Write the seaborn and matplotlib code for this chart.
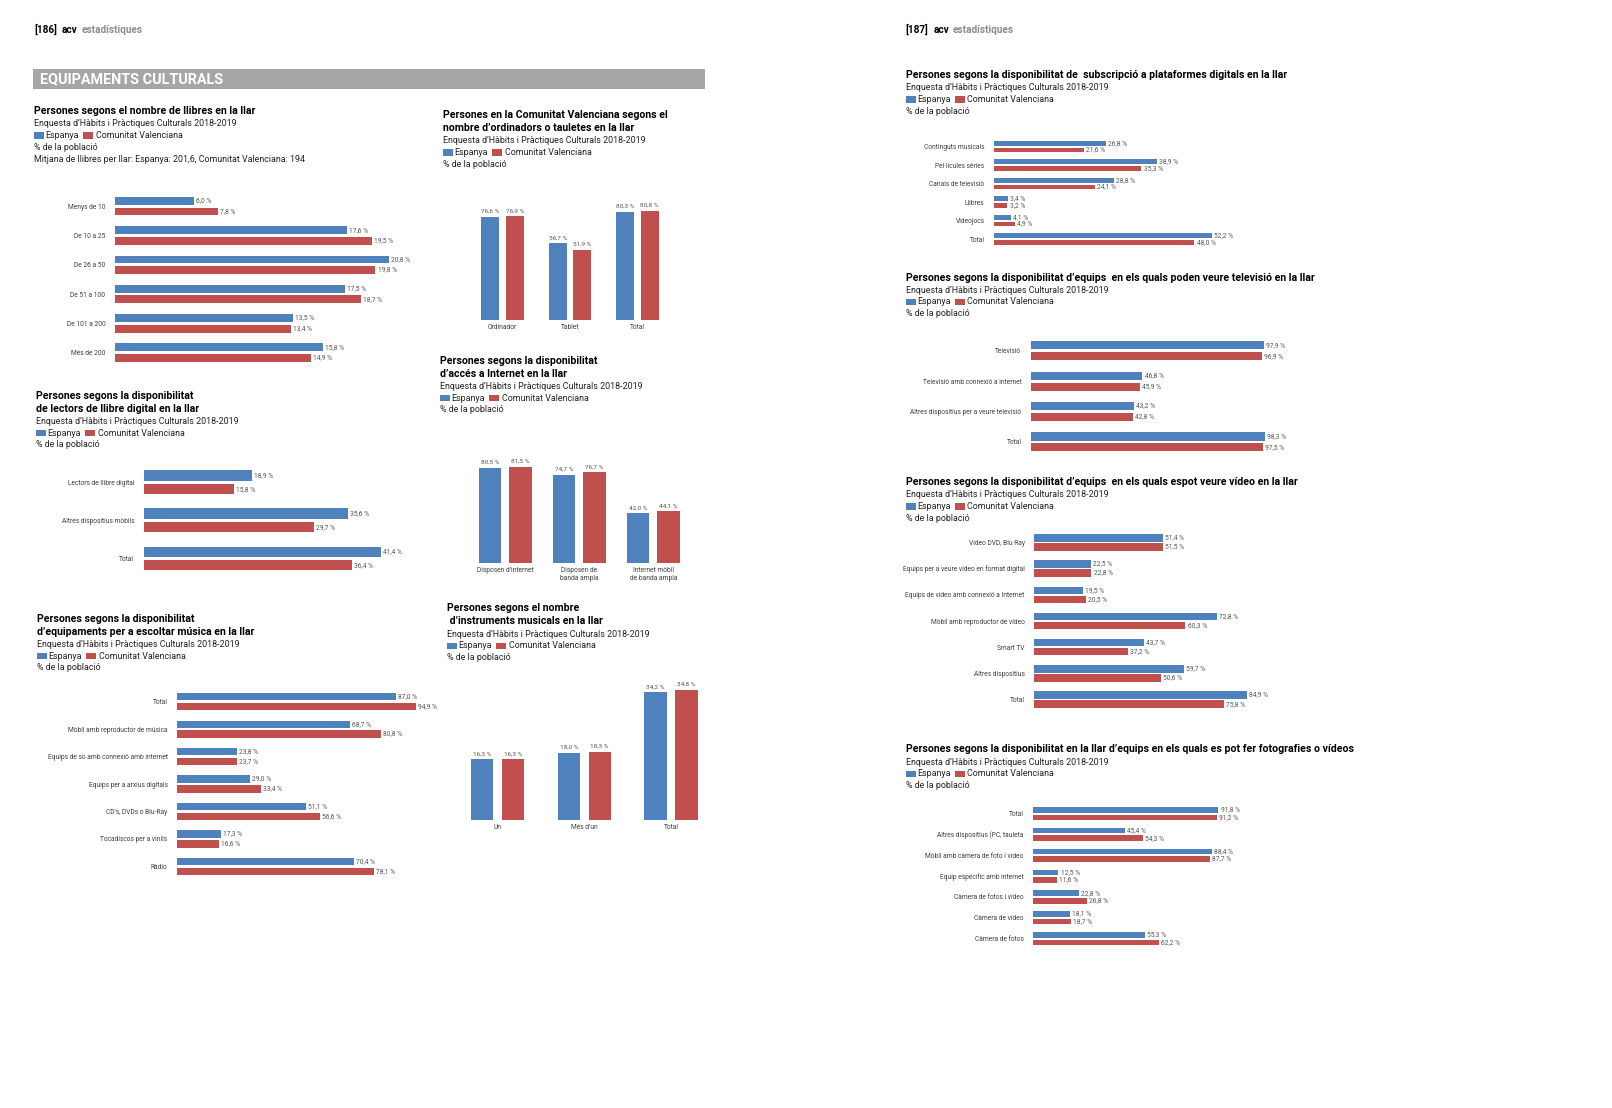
import matplotlib
matplotlib.use('Agg')
import matplotlib.pyplot as plt
from matplotlib.patches import Rectangle
import pandas as pd
import seaborn as sns

llibresCats = ['Menys de 10', 'De 10 a 25', 'De 26 a 50', 'De 51 a 100', 'De 101 a 200', 'Més de 200']
llibresEsp = [6.0, 17.6, 20.8, 17.5, 13.5, 15.8]
llibresCV = [7.8, 19.5, 19.8, 18.7, 13.4, 14.9]

lectorsCats = ['Lectors de llibre digital', 'Altres dispositius mòbils', 'Total']
lectorsEsp = [18.9, 35.6, 41.4]
lectorsCV = [15.8, 29.7, 36.4]

musicaCats = ['Total', 'Mòbil amb reproductor de música', 'Equips de so amb connexió amb internet',
              'Equips per a arxius digitals', "CD's, DVDs o Blu-Ray", 'Tocadiscos per a vinils', 'Ràdio']
musicaEsp = [87.0, 68.7, 23.8, 29.0, 51.1, 17.3, 70.4]
musicaCV = [94.9, 80.8, 23.7, 33.4, 56.6, 16.6, 78.1]

ordCats = ['Ordinador', 'Tablet', 'Total']
ordEsp = [76.6, 56.7, 80.3]
ordCV = [76.9, 51.9, 80.8]

internetCats = ["Disposen d'internet", 'Disposen de\nbanda ampla', 'Internet mòbil\nde banda ampla']
internetEsp = [80.5, 74.7, 42.0]
internetCV = [81.5, 76.7, 44.1]

instrCats = ['Un', "Més d'un", 'Total']
instrEsp = [16.3, 18.0, 34.2]
instrCV = [16.3, 18.3, 34.8]

subsCats = ['Continguts musicals', 'Pel·lícules sèries', 'Canals de televisió', 'Llibres', 'Videojocs', 'Total']
subsEsp = [26.8, 38.9, 28.8, 3.4, 4.1, 52.2]
subsCV = [21.6, 35.3, 24.1, 3.2, 4.9, 48.0]

tvCats = ['Televisió', 'Televisió amb connexió a internet', 'Altres dispositius per a veure televisió', 'Total']
tvEsp = [97.9, 46.8, 43.2, 98.3]
tvCV = [96.9, 45.9, 42.8, 97.5]

videoCats = ['Vídeo DVD, Blu Ray', 'Equips per a veure vídeo en format digital',
             'Equips de vídeo amb connexió a Internet', 'Mòbil amb reproductor de vídeo',
             'Smart TV', 'Altres dispositius', 'Total']
videoEsp = [51.4, 22.5, 19.5, 72.8, 43.7, 59.7, 84.9]
videoCV = [51.5, 22.8, 20.5, 60.3, 37.2, 50.6, 75.8]

fotoCats = ['Total', 'Altres dispositius (PC, tauleta', 'Mòbil amb càmera de foto i vídeo',
            'Equip específic amb internet', 'Càmera de fotos i vídeo', 'Càmera de vídeo', 'Càmera de fotos']
fotoEsp = [91.8, 45.4, 88.4, 12.5, 22.8, 18.1, 55.3]
fotoCV = [91.2, 54.3, 87.7, 11.6, 26.8, 18.7, 62.2]

BLUE = '#4F81BD'
RED = '#C0504D'
PAL = {'Espanya': BLUE, 'Comunitat Valenciana': RED}
SUB = "Enquesta d’Hàbits i Pràctiques Culturals 2018-2019"

sns.set_theme(style='white')
plt.rcParams['font.family'] = ['Roboto', 'DejaVu Sans']

# page coordinates, scaled onto the 1612x1108 canvas
W0, H0 = 1568.0, 1078.0
fig = plt.figure(figsize=(16.12, 11.08), dpi=100)
fig.patch.set_facecolor('white')

TITLESIZE = 7.6
SUBSIZE = 6.4
TICKSIZE = 4.75
VALSIZE = 4.8
TICKCOL = '#404040'
VALCOL = '#555555'


def pctFmt(v):
    return f'{v:.1f} %'.replace('.', ',')


def toFig(x, y):
    return x / W0, 1 - y / H0


def addText(x, y, s, size=SUBSIZE, weight='normal', color='#222222'):
    fx, fy = toFig(x, y)
    fig.text(fx, fy, s, fontsize=size, fontweight=weight, color=color, va='center', ha='left')


def addRect(x, y, w, h, col):
    fx, fy = toFig(x, y + h)
    fig.patches.append(Rectangle((fx, fy), w / W0, h / H0, transform=fig.transFigure,
                                 facecolor=col, edgecolor='none', zorder=3))


def addLegend(x, y):
    addRect(x, y - 3, 10, 6, BLUE)
    addText(x + 11, y, 'Espanya')
    addRect(x + 47.5, y - 3, 10, 6, RED)
    addText(x + 60, y, 'Comunitat Valenciana')


def panelHead(x, y, titles, extra=None):
    for t in titles:
        addText(x, y, t, size=TITLESIZE, weight='bold', color='black')
        y += 12.5
    addText(x, y, SUB)
    addLegend(x, y + 11.3)
    addText(x, y + 22.6, '% de la població')
    if extra:
        addText(x, y + 34.2, extra)


def longDF(cats, esp, cv):
    n = len(cats)
    return pd.DataFrame({'cat': cats + cats,
                         'grup': ['Espanya'] * n + ['Comunitat Valenciana'] * n,
                         'pct': esp + cv})


def cleanAx(ax):
    ax.set_xlabel('')
    ax.set_ylabel('')
    ax.set_facecolor('none')
    for s in ax.spines.values():
        s.set_visible(False)


def hbarPanel(cats, esp, cv, x0, yFirst, step, scale, width=0.72, gap=0.26):
    n = len(cats)
    xmax = max(esp + cv)
    top = yFirst - step / 2
    ax = fig.add_axes([x0 / W0, 1 - (top + n * step) / H0, xmax * scale / W0, n * step / H0])
    sns.barplot(data=longDF(cats, esp, cv), x='pct', y='cat', hue='grup', orient='h',
                palette=PAL, saturation=1, width=width, gap=gap, errorbar=None,
                legend=False, linewidth=0, ax=ax)
    ax.set_xlim(0, xmax)
    ax.set_ylim(n - 0.5, -0.5)
    for cont in ax.containers:
        ax.bar_label(cont, fmt=pctFmt, padding=1.5, fontsize=VALSIZE, color=VALCOL)
    cleanAx(ax)
    ax.set_xticks([])
    ax.tick_params(axis='y', length=0, pad=7, labelsize=TICKSIZE, labelcolor=TICKCOL)
    return ax


def vbarPanel(cats, esp, cv, xFirst, step, base, scale, width, gap):
    n = len(cats)
    ymax = max(esp + cv)
    ax = fig.add_axes([(xFirst - step / 2) / W0, 1 - base / H0, n * step / W0, ymax * scale / H0])
    sns.barplot(data=longDF(cats, esp, cv), x='cat', y='pct', hue='grup',
                palette=PAL, saturation=1, width=width, gap=gap, errorbar=None,
                legend=False, linewidth=0, ax=ax)
    ax.set_ylim(0, ymax)
    ax.set_xlim(-0.5, n - 0.5)
    for cont in ax.containers:
        ax.bar_label(cont, fmt=pctFmt, padding=2, fontsize=VALSIZE - 0.2, color=VALCOL)
    cleanAx(ax)
    ax.set_yticks([])
    ax.tick_params(axis='x', length=0, pad=3, labelsize=TICKSIZE, labelcolor=TICKCOL)
    return ax


# ---- page headers ----
addText(33, 29, '[186]', size=7.2, weight='bold', color='black')
addText(60, 29, 'acv', size=7.2, weight='bold', color='black')
addText(79, 29, 'estadístiques', size=7.2, weight='bold', color='#8c8c8c')
addText(881, 29, '[187]', size=7.2, weight='bold', color='black')
addText(908, 29, 'acv', size=7.2, weight='bold', color='black')
addText(927, 29, 'estadístiques', size=7.2, weight='bold', color='#8c8c8c')

addRect(32, 67, 654, 20, '#A6A6A6')
addText(39, 77, 'EQUIPAMENTS CULTURALS', size=10.4, weight='bold', color='white')

# ---- left page ----
panelHead(33, 108, ['Persones segons el nombre de llibres en la llar'],
          extra='Mitjana de llibres per llar: Espanya: 201,6, Comunitat Valenciana: 194')
hbarPanel(llibresCats, llibresEsp, llibresCV, 112, 200.6, 28.5, 12.79)

panelHead(35, 385, ['Persones segons la disponibilitat', 'de lectors de llibre digital en la llar'])
hbarPanel(lectorsCats, lectorsEsp, lectorsCV, 140, 469.3, 37.0, 5.57)

panelHead(36, 602, ['Persones segons la disponibilitat',
                    'd’equipaments per a escoltar música en la llar'])
hbarPanel(musicaCats, musicaEsp, musicaCV, 172.5, 682.7, 26.7, 2.446)

panelHead(431, 112, ['Persones en la Comunitat Valenciana segons el',
                     'nombre d’ordinadors o tauletes en la llar'])
vbarPanel(ordCats, ordEsp, ordCV, 489, 65.5, 311, 1.31, 0.73, 0.27)

panelHead(428, 351, ['Persones segons la disponibilitat', 'd’accés a Internet en la llar'])
vbarPanel(internetCats, internetEsp, internetCV, 491.5, 72, 548, 1.153, 0.83, 0.27)

panelHead(435, 592, ['Persones segons el nombre', ' d’instruments musicals en la llar'])
vbarPanel(instrCats, instrEsp, instrCV, 484, 84.3, 798, 3.65, 0.715, 0.28)

# ---- right page ----
panelHead(881, 73, ['Persones segons la disponibilitat de  subscripció a plataformes digitals en la llar'])
hbarPanel(subsCats, subsEsp, subsCV, 967, 142.7, 18.0, 4.06)

panelHead(881, 270, ['Persones segons la disponibilitat d’equips  en els quals poden veure televisió en la llar'])
hbarPanel(tvCats, tvEsp, tvCV, 1003, 341.2, 29.6, 2.313)

panelHead(881, 469, ['Persones segons la disponibilitat d’equips  en els quals espot veure vídeo en la llar'])
hbarPanel(videoCats, videoEsp, videoCV, 1006, 527.7, 25.5, 2.44, width=0.69, gap=0.18)

panelHead(881, 729, ['Persones segons la disponibilitat en la llar d’equips en els quals es pot fer fotografies o vídeos'])
hbarPanel(fotoCats, fotoEsp, fotoCV, 1005, 791.5, 20.3, 1.963)

fig.savefig('out.png', dpi=100)
